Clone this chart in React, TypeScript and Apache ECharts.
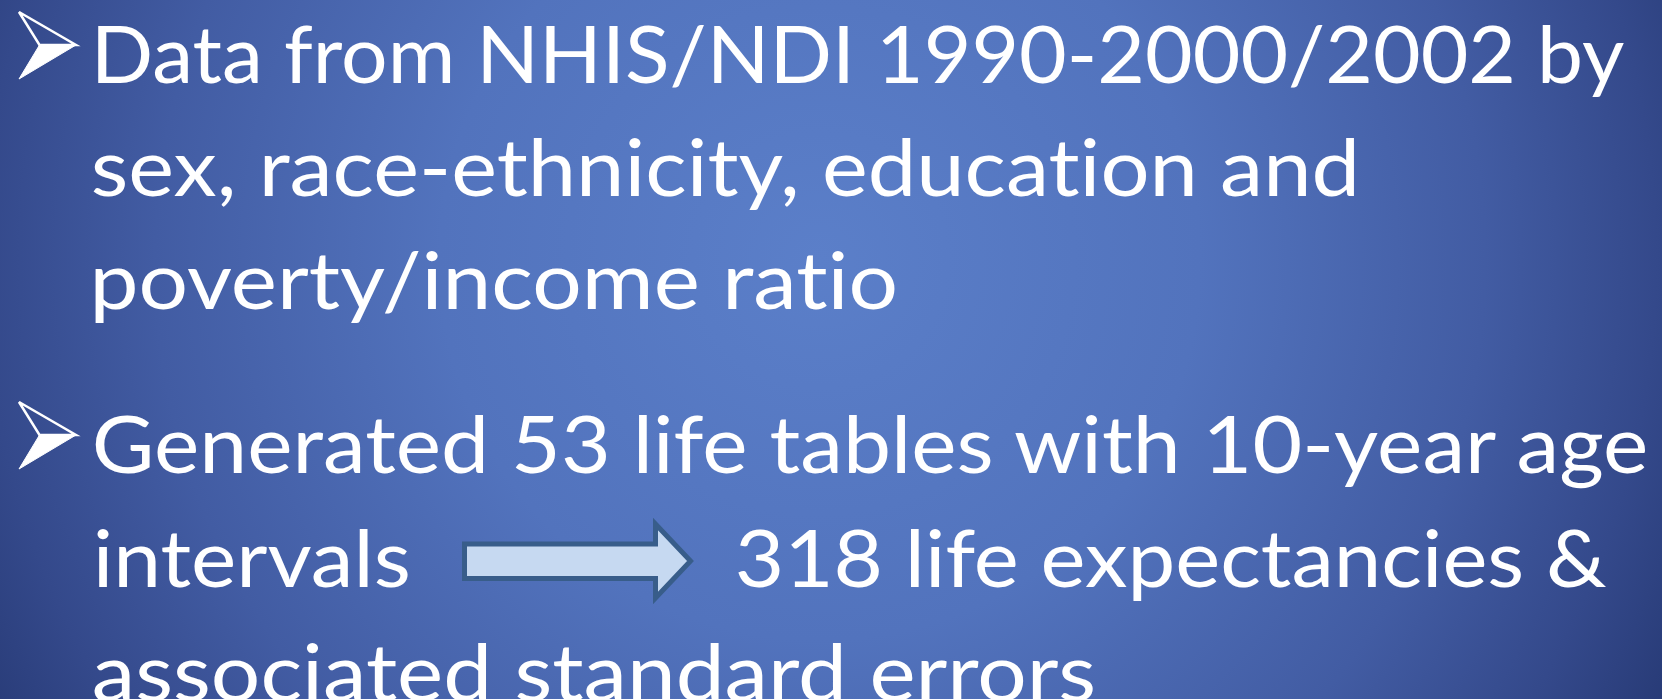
import React, { useEffect, useRef } from 'react';
import * as echarts from 'echarts';

const W = 1662;
const H = 699;
const FONT = 'Lato';
const FONT_SIZE = 80;

// Slide text lines
const lineTexts = [
  'Data from NHIS/NDI 1990-2000/2002 by',
  'sex, race-ethnicity, education and',
  'poverty/income ratio',
  'Generated 53 life tables with 10-year age',
  'intervals',
  '318 life expectancies &',
  'associated standard errors',
];
const lineInkLeft = [98, 93, 95, 95, 97, 738, 94];
const lineInkRight = [1625, 1357, 896, 1650, 408, 1607, 1093];
const lineBaseline = [78, 191, 304, 468, 582, 582, 696];

// Bullet arrowheads (top y of each)
const bulletTops = [12, 402];

// Block arrow outline
const blockArrow = [
  [464.5, 544], [655.5, 544], [655.5, 524], [690.5, 561],
  [655.5, 598], [655.5, 578.5], [464.5, 578.5],
];

function measure(text: string) {
  const c = document.createElement('canvas');
  const ctx = c.getContext('2d')!;
  ctx.font = `${FONT_SIZE}px ${FONT}`;
  ctx.textBaseline = 'alphabetic';
  const m1 = ctx.measureText(text);
  ctx.textBaseline = 'middle';
  const m2 = ctx.measureText(text);
  const midOffset = m1.actualBoundingBoxAscent - m2.actualBoundingBoxAscent;
  return {
    abl: m1.actualBoundingBoxLeft,
    abr: m1.actualBoundingBoxRight,
    midOffset: isFinite(midOffset) && midOffset > 0 ? midOffset : FONT_SIZE * 0.35,
  };
}

export default function App() {
  const ref = useRef<HTMLDivElement>(null);
  useEffect(() => {
    if (!ref.current) return;
    const chart = echarts.init(ref.current, undefined, { renderer: 'svg', width: W, height: H });
    const elements: any[] = [];
    elements.push({
      type: 'rect',
      shape: { x: 0, y: 0, width: W, height: H },
      style: {
        fill: {
          type: 'radial', x: 820, y: 260, r: 950, global: true,
          colorStops: [
            { offset: 0, color: '#5B7FC9' },
            { offset: 0.4, color: '#5273BD' },
            { offset: 0.7, color: '#425CA3' },
            { offset: 0.88, color: '#34498B' },
            { offset: 1, color: '#283B77' },
          ],
        },
      },
      silent: true,
    });
    bulletTops.forEach((t) => {
      elements.push({
        type: 'polygon',
        shape: { points: [[19, t], [76, t + 33], [39.5, t + 33]] },
        style: { fill: 'none', stroke: '#FFFFFF', lineWidth: 2.5, lineJoin: 'miter' },
      });
      elements.push({
        type: 'polygon',
        shape: { points: [[39.5, t + 33], [76, t + 33], [19, t + 67]] },
        style: { fill: '#FFFFFF', stroke: '#FFFFFF', lineWidth: 1 },
      });
    });
    elements.push({
      type: 'polygon',
      shape: { points: blockArrow },
      style: { fill: '#C6D9F1', stroke: '#385D8A', lineWidth: 5, lineJoin: 'miter' },
    });
    lineTexts.forEach((text, i) => {
      const m = measure(text);
      const inkW = m.abl + m.abr;
      const target = lineInkRight[i] - lineInkLeft[i];
      const s = inkW > 0 ? target / inkW : 1;
      const x = lineInkLeft[i] + m.abl * s;
      elements.push({
        type: 'text',
        x,
        y: lineBaseline[i] - m.midOffset,
        scaleX: s,
        style: {
          text,
          fill: '#FFFFFF',
          fontSize: FONT_SIZE,
          fontFamily: FONT,
          align: 'left',
          verticalAlign: 'middle',
        },
      });
    });
    chart.setOption({ animation: false, graphic: { elements } });
    return () => chart.dispose();
  }, []);
  return (
    <div
      ref={ref}
      style={{
        position: 'absolute', left: 0, top: 0, width: W, height: H, overflow: 'hidden',
        fontVariantLigatures: 'none',
      }}
    />
  );
}
